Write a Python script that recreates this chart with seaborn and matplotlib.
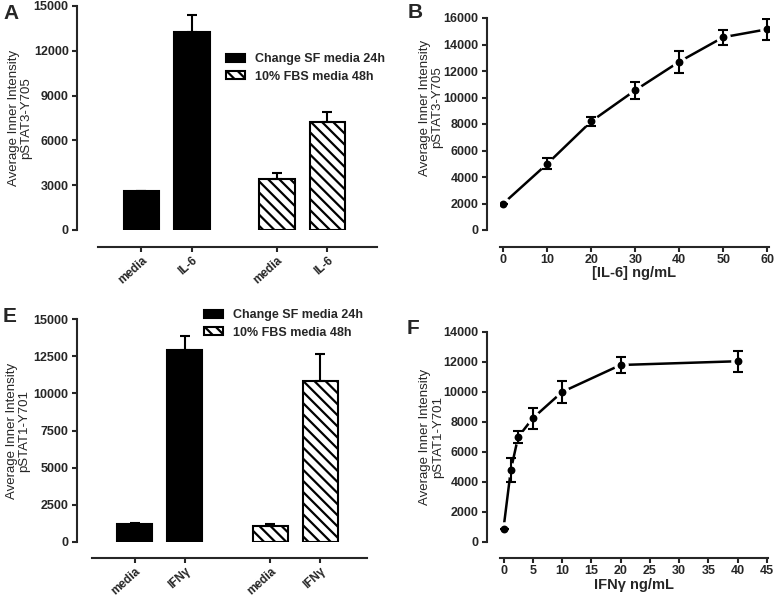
import numpy as np
import pandas as pd
import seaborn as sns
import matplotlib.pyplot as plt
from matplotlib.patches import Patch

# ---------------------------------------------------------
# data
# ---------------------------------------------------------
groups = ['Change SF media 24h', '10% FBS media 48h']

a_labels = ['media', 'IL-6', 'media', 'IL-6']
a_mean = [2600, 13250, 3400, 7200]
a_err = [40, 1150, 400, 690]

e_labels = ['media', 'IFNγ', 'media', 'IFNγ']
e_mean = [1200, 12900, 1100, 10850]
e_err = [110, 950, 110, 1800]

b_dose = [0, 10, 20, 30, 40, 50, 60]
b_mean = [2000, 5000, 8200, 10550, 12700, 14550, 15150]
b_err = [0, 420, 330, 650, 830, 560, 780]

f_dose = [0, 1.25, 2.5, 5, 10, 20, 40]
f_mean = [900, 4800, 7000, 8250, 10000, 11800, 12050]
f_err = [0, 800, 370, 700, 730, 530, 700]

# ---------------------------------------------------------
# style
# ---------------------------------------------------------
sns.set_style('ticks')
plt.rcParams['font.family'] = ['Liberation Sans', 'DejaVu Sans']
plt.rcParams['font.weight'] = 'bold'
plt.rcParams['hatch.linewidth'] = 1.6
plt.rcParams['axes.linewidth'] = 1.5
plt.rcParams['xtick.major.width'] = 1.5
plt.rcParams['ytick.major.width'] = 1.5
plt.rcParams['xtick.major.size'] = 3.6
plt.rcParams['ytick.major.size'] = 3.6
plt.rcParams['xtick.major.pad'] = 1.5
plt.rcParams['ytick.major.pad'] = 2.5

W, H = 777, 597
TICK = {'fontsize': 9, 'fontweight': 'bold'}
fig = plt.figure(figsize=(W / 100, H / 100), dpi=100)


def box(left, top, right, bottom):
    # pixel box -> figure fraction
    return [left / W, 1 - bottom / H, (right - left) / W, (bottom - top) / H]


def prism_axes(rect, left_out, bottom_out):
    # spines pulled away from the data area, GraphPad style
    ax = fig.add_axes(rect)
    sns.despine(ax=ax)
    ax.spines['left'].set_position(('outward', left_out))
    ax.spines['bottom'].set_position(('outward', bottom_out))
    return ax


def set_yaxis(ax, ymax, ystep, text, x, y):
    ticks = np.arange(0, ymax + 1, ystep)
    ax.set_ylim(0, ymax)
    ax.set_yticks(ticks, [str(t) for t in ticks], **TICK)
    ax.set_ylabel(text, fontsize=9.5, fontweight='normal', linespacing=1.05)
    ax.yaxis.set_label_coords(x, y)


def bar_panel(ax, labels, mean, err, ymax, ystep, ylabel, gap, legend_xy, ylab_x):
    pos = [0, 1, 1 + gap, 2 + gap]
    sns.barplot(x=pos[:2], y=mean[:2], native_scale=True, orient='x', color='black',
                edgecolor='black', linewidth=1.5, width=0.7, ax=ax)
    sns.barplot(x=pos[2:], y=mean[2:], native_scale=True, orient='x', color='white',
                edgecolor='black', linewidth=1.5, width=0.7, ax=ax, saturation=1)
    for p in ax.patches[2:]:
        p.set_hatch('\\\\\\')
        p.set_facecolor('white')
    ax.errorbar(pos, mean, yerr=[np.zeros(4), err], fmt='none', ecolor='black',
                elinewidth=1.5, capsize=3.3, capthick=1.5, zorder=1)
    ax.set_xlim(-0.86, 4.66)
    ax.set_xticks(pos)
    ax.set_xticklabels(labels, rotation=42, ha='right', rotation_mode='anchor',
                       fontsize=8.5, fontweight='bold')
    ax.set_xlabel('')
    set_yaxis(ax, ymax, ystep, ylabel, ylab_x, 0.5)
    handles = [Patch(facecolor='black', edgecolor='black', linewidth=1.5),
               Patch(facecolor='white', edgecolor='black', linewidth=1.5, hatch='\\\\\\')]
    ax.legend(handles, groups, loc='upper left', bbox_to_anchor=(legend_xy[0] / W, 1 - legend_xy[1] / H),
              bbox_transform=fig.transFigure, frameon=False, borderpad=0, borderaxespad=0,
              handlelength=1.5, handleheight=0.6, handletextpad=0.8, labelspacing=0.45,
              prop={'weight': 'bold', 'size': 9})


def curve_panel(ax, dose, mean, err, xlim, xticks, ymax, xlabel, ylabel, ylab_y, xlab_y):
    df = pd.DataFrame({'dose': dose, 'mean': mean})
    sns.lineplot(data=df, x='dose', y='mean', color='black', linewidth=1.8, ax=ax, zorder=1)
    # white halo so the line stops short of each point
    sns.scatterplot(data=df, x='dose', y='mean', color='white', s=110, linewidth=0, ax=ax, zorder=2)
    ax.errorbar(dose, mean, yerr=err, fmt='none', ecolor='black', elinewidth=1.5,
                capsize=3.3, capthick=1.5, zorder=3)
    sns.scatterplot(data=df, x='dose', y='mean', color='black', s=32, linewidth=0, ax=ax, zorder=4)
    ax.set_xlim(*xlim)
    ax.set_xticks(list(xticks), [str(t) for t in xticks], **TICK)
    ax.set_xlabel(xlabel, fontsize=10.5, fontweight='bold', va='center')
    ax.xaxis.set_label_coords(0.5, xlab_y)
    set_yaxis(ax, ymax, 2000, ylabel, -0.21, ylab_y)


# A
axA = prism_axes(box(98, 6, 377, 230), 15, 12.2)
bar_panel(axA, a_labels, a_mean, a_err, 15000, 3000,
          'Average Inner Intensity\npSTAT3-Y705', 1.68, (226, 53), -0.235)

# B
axB = prism_axes(box(500, 18, 769, 230), 9.4, 12.2)
curve_panel(axB, b_dose, b_mean, b_err, (-0.75, 60.4), range(0, 61, 10), 16000,
            '[IL-6] ng/mL', 'Average Inner Intensity\npSTAT3-Y705', 0.578, -0.205)

# E
axE = prism_axes(box(92, 319, 367, 542), 10.8, 11.5)
bar_panel(axE, e_labels, e_mean, e_err, 15000, 2500,
          'Average Inner Intensity\npSTAT1-Y701', 1.72, (204, 309), -0.225)

# F
axF = prism_axes(box(500, 332, 768, 542), 9.4, 11.5)
curve_panel(axF, f_dose, f_mean, f_err, (-0.6, 45.2), range(0, 46, 5), 14000,
            'IFNγ ng/mL', 'Average Inner Intensity\npSTAT1-Y701', 0.5, -0.207)

# panel letters
for letter, x, y in [('A', 3, 4), ('B', 408, 3), ('E', 3, 307), ('F', 407, 319)]:
    fig.text(x / W, 1 - y / H, letter, fontsize=15, fontweight='bold', va='top', ha='left')

fig.savefig('out.png', dpi=100)
